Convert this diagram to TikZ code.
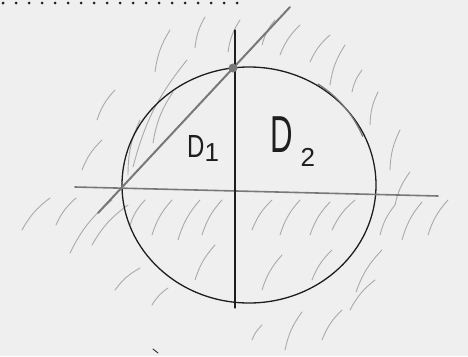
\documentclass[tikz,border=0pt]{standalone}
\usepackage{fontspec}
\newfontfamily\handfont{Liberation Sans}
\usepackage{tikz}
\usetikzlibrary{calc}
\definecolor{paperGrey}{RGB}{239,239,239}
\definecolor{inkDark}{RGB}{30,30,30}
\definecolor{inkGrey}{RGB}{120,120,120}
\definecolor{hatchGrey}{RGB}{170,170,170}

\begin{document}
\begin{tikzpicture}[
x=1pt, y=-1pt,
pen/.style={draw=inkDark, line width=1.3pt, line cap=round},
pencil/.style={draw=inkGrey, line width=1.6pt, line cap=round},
hatch/.style={draw=hatchGrey, line width=0.9pt, line cap=round},
region/.style={text=inkDark, inner sep=0pt, anchor=base west, font=\handfont}
]
\fill[paperGrey] (0,0) rectangle (468,356);
\useasboundingbox (0,0) rectangle (468,356);

% dotted rule at the top
\foreach \i in {0,...,18}
  \fill[inkDark] (3+13*\i,3) circle (1.5);

% hatching
\foreach \xa/\ya/\xb/\yb in {
  170/30/155/72, 205/17/195/48, 240/20/228/52, 275/20/262/45,
  300/25/280/55, 330/35/310/62, 345/45/330/85, 362/70/352/92,
  378/92/370/125, 400/130/390/170, 410/172/395/205,
  115/90/97/120, 102/140/82/170, 76/198/56/225, 50/198/22/230,
  187/60/133/167, 173/92/153/143, 140/120/128/175,
  145/200/130/225, 172/200/152/235, 200/200/178/240, 222/200/202/235,
  272/200/252/230, 300/200/280/235, 330/202/310/235, 355/200/332/230,
  395/205/380/235, 422/202/402/240, 448/200/428/235,
  112/200/70/253, 128/205/92/245,
  215/245/195/280, 282/255/262/290, 332/250/312/280, 382/250/356/292,
  140/268/115/290, 168/288/152/305, 262/325/252/340, 302/312/285/350,
  342/310/322/340, 375/280/350/310}
  \draw[hatch] (\xa,\ya) to[bend right=12] (\xb,\yb);

\coordinate (cen) at (249,185);
\coordinate (top) at (233,68);
\coordinate (lft) at (123,187);

% disc and cutting lines
\draw[pen] (cen) ellipse [x radius=127, y radius=118];
\draw[pencil, line width=1.2pt] (318,84) arc [start angle=-60, end angle=-25, x radius=110, y radius=118];
\coordinate (hstart) at (75,187);
\coordinate (hend) at (438,196);
\draw[pencil] (hstart) -- (hend);
\coordinate (dstart) at (98,213);
\coordinate (dend) at (290,7);
\draw[pencil, line width=2pt] (dstart) -- (dend);
\draw[pen, line width=1.1pt] (235,30) -- (235,308);
\fill[inkGrey] (top) circle (4.5);

\node[region] (d1) at (187,157)
  {\fontsize{32}{32}\selectfont\scalebox{0.75}[1]{D}\raisebox{-4pt}{\fontsize{26}{26}\selectfont 1}};
\node[region] (d2) at (270,152)
  {\fontsize{52}{52}\selectfont\scalebox{0.6}[1]{D}\hspace{8pt}\raisebox{-14pt}{\fontsize{26}{26}\selectfont 2}};

\draw[pen, line width=0.8pt] (153,349) -- (158,353);
\end{tikzpicture}
\end{document}
